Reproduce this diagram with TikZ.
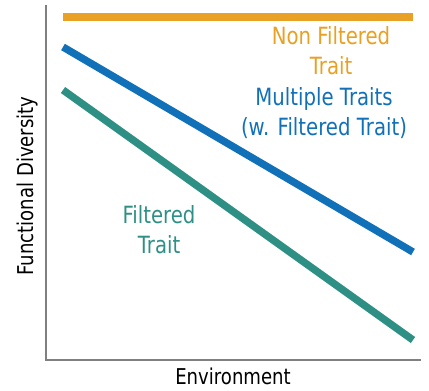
\documentclass[tikz,border=0pt]{standalone}
\usepackage{fontspec}
\setmainfont{DejaVu Sans}[FakeStretch=0.83]
\usepackage{tikz}
\definecolor{nonfilt}{HTML}{E8A025}
\definecolor{multi}{HTML}{1070B8}
\definecolor{filt}{HTML}{2E9084}
\tikzstyle{axis} = [draw,color=gray,line width=0.8pt]
\tikzstyle{trend} = [draw,line width=4.2pt]
\tikzstyle{lbl} = [inner sep=0,align=center,font=\fontsize{13.5}{17}\selectfont]
\tikzstyle{axlbl} = [inner sep=0,font=\fontsize{12.4}{14}\selectfont]

\begin{document}
\begin{tikzpicture}[x=0.02cm,y=-0.02cm]
    \useasboundingbox (0,0) rectangle (429,390);

    % axes
    \coordinate (ytop) at (46,5);
    \coordinate (orig) at (46,360);
    \coordinate (xend) at (421,360);
    \draw[axis] (ytop) -- (orig) -- (xend);

    % trend lines
    \coordinate (nfa) at (63,17);
    \coordinate (nfb) at (413,17);
    \coordinate (mta) at (63,47);
    \coordinate (mtb) at (413,252);
    \coordinate (fta) at (63,90);
    \coordinate (ftb) at (413,340);
    \draw[trend,nonfilt] (nfa) -- (nfb);
    \draw[trend,multi] (mta) -- (mtb);
    \draw[trend,filt] (fta) -- (ftb);

    % labels
    \node[lbl,text=nonfilt] (nflbl) at (331,51) {Non Filtered\\Trait};
    \node[lbl,text=multi] (mtlbl) at (324,113) {Multiple Traits\\(w. Filtered Trait)};
    \node[lbl,text=filt] (ftlbl) at (159,230) {Filtered\\Trait};
    \node[axlbl,rotate=90] (ylbl) at (27,186) {Functional Diversity};
    \node[axlbl] (xlbl) at (233,376) {Environment};

\end{tikzpicture}
\end{document}
